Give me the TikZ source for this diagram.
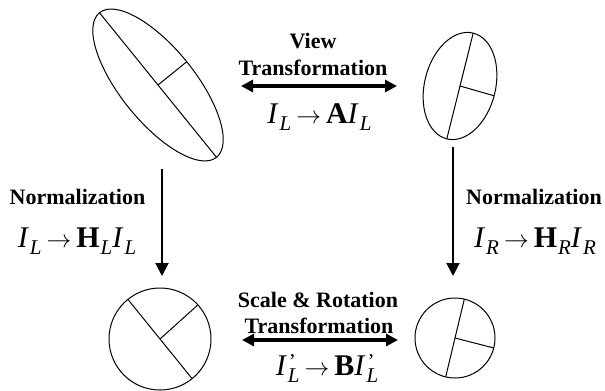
\documentclass[tikz,border=0pt]{standalone}
\usepackage{fontspec}
\setmainfont{Liberation Serif}
\usetikzlibrary{arrows.meta,calc}
\newcommand\msub[1]{\raisebox{-7bp}{\fontsize{21bp}{21bp}\selectfont\itshape\kern1bp #1}}
\newcommand\mpsub[1]{\makebox[0pt][l]{\raisebox{7bp}{\fontsize{21bp}{21bp}\selectfont\kern2bp'}}\msub{#1}}
\newcommand\mI{\textit{I}}
\newcommand\marr{\hspace{5bp}$\rightarrow$\hspace{5bp}}
\begin{document}
\begin{tikzpicture}[x=1bp,y=-1bp,
  lab/.style={font=\fontsize{22bp}{24bp}\selectfont\bfseries, inner sep=0pt, anchor=base},
  eq/.style={font=\fontsize{30bp}{32bp}\selectfont, inner sep=0pt, anchor=base},
  outline/.style={line width=1bp},
  harrow/.style={line width=3.5bp, {Triangle[length=12bp,width=12bp]}-{Triangle[length=12bp,width=12bp]}},
  varrow/.style={line width=2bp, -{Triangle[length=13bp,width=13bp]}}]
\useasboundingbox (0,0) rectangle (605,390);
% shapes
\coordinate (e1) at (158,85);
\draw[outline, rotate around={-51:(e1)}] (e1) ellipse [x radius=93, y radius=37];
\draw[outline] ($(e1)+(51:93)$) -- ($(e1)+(231:93)$);
\draw[outline] (e1) -- ($(e1)+(-39:37)$);
\coordinate (e2) at (460,86);
\draw[outline, rotate around={76:(e2)}] (e2) ellipse [x radius=54.5, y radius=35.5];
\draw[outline] ($(e2)+(-76:54.5)$) -- ($(e2)+(104:54.5)$);
\draw[outline] (e2) -- ($(e2)+(16:35.5)$);
\coordinate (c1) at (160,339);
\draw[outline] (c1) circle [radius=51];
\draw[outline] ($(c1)+(51:51)$) -- ($(c1)+(231:51)$);
\draw[outline] (c1) -- ($(c1)+(-42:51)$);
\coordinate (c2) at (455,338);
\draw[outline] (c2) circle [radius=40];
\draw[outline] ($(c2)+(-76.5:40)$) -- ($(c2)+(103.5:40)$);
\draw[outline] (c2) -- ($(c2)+(14.4:40)$);
% arrows
\coordinate (ta) at (241,86); \coordinate (tb) at (397,86);
\coordinate (ba) at (242,340); \coordinate (bb) at (398,340);
\coordinate (la) at (162,169); \coordinate (lb) at (162,276);
\coordinate (ra) at (453,147); \coordinate (rb) at (453,276);
\draw[harrow] (ta) -- (tb);
\draw[harrow] (ba) -- (bb);
\draw[varrow] (la) -- (lb);
\draw[varrow] (ra) -- (rb);
% labels
\node[lab] (t1) at (313,48) {View};
\node[lab] (t2) at (313,75) {Transformation};
\node[eq] (t3) at (319.5,123) {\mI\msub{L}\marr\textbf{A}\mI\msub{L}};
\node[lab] (l1) at (77.5,204) {Normalization};
\node[eq] (l2) at (77,247) {\mI\msub{L}\marr\textbf{H}\msub{L}\mI\msub{L}};
\node[lab] (r1) at (534,204) {Normalization};
\node[eq] (r2) at (535,247) {\mI\msub{R}\marr\textbf{H}\msub{R}\mI\msub{R}};
\node[lab] (b1) at (318,307) {Scale \& Rotation};
\node[lab] (b2) at (319,333) {Transformation};
\node[eq] (b3) at (327,375) {\mI\mpsub{L}\marr\textbf{B}\mI\mpsub{L}};
\end{tikzpicture}
\end{document}
